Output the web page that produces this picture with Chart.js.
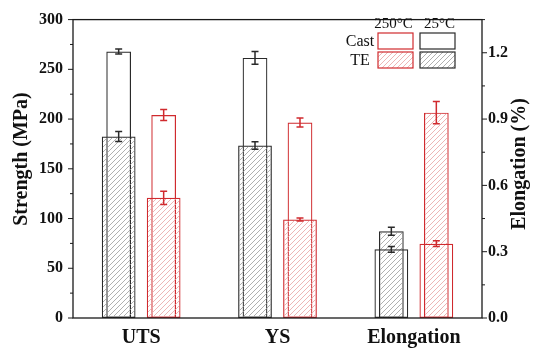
<!DOCTYPE html>
<html><head><meta charset="utf-8">
<script src="https://cdn.jsdelivr.net/npm/chart.js@4/dist/chart.umd.min.js"></script>
<style>html,body{margin:0;padding:0;background:#fff;}#wrap{width:533px;height:349px;}</style>
</head><body><div id="wrap"><canvas id="c" width="533" height="349"></canvas></div>
<script>
// ---- data ----
const categories = ['UTS', 'YS', 'Elongation'];
// UTS, YS in MPa ; Elongation in %
const cast25     = [268, 261.5, 0.311];
const cast25Err  = [2.5, 6.5, 0.013];
const te25       = [182.5, 173.5, 0.392];
const te25Err    = [5, 3.8, 0.018];
const cast250    = [204, 196.5, 0.336];
const cast250Err = [5.5, 4.6, 0.013];
const te250      = [120.8, 99, 0.929];
const te250Err   = [6.6, 1.5, 0.05];
const strengthTicks = [0, 50, 100, 150, 200, 250, 300];
const elongTicks    = [0, 0.3, 0.6, 0.9, 1.2];
const legendCols = ['250°C', '25°C'];
const legendRows = ['Cast', 'TE'];

// ---- helpers ----
const BLACK = '#2a2a2a', RED = '#d02a2e';
const strengthPart = a => a.map((v, i) => i < 2 ? v : null);
const elongPart = a => a.map((v, i) => i === 2 ? v : null);
const canvas = document.getElementById('c');
const mainCtx = canvas.getContext('2d');
function hatch(color) {
  const s = 5, c = document.createElement('canvas');
  c.width = s; c.height = s;
  const g = c.getContext('2d');
  g.strokeStyle = color; g.lineWidth = 0.8;
  g.beginPath();
  g.moveTo(0, s); g.lineTo(s, 0);
  g.moveTo(-1, 1); g.lineTo(1, -1);
  g.moveTo(s - 1, s + 1); g.lineTo(s + 1, s - 1);
  g.stroke();
  return mainCtx.createPattern(c, 'repeat');
}
const hatchK = hatch('#9c9c9c'), hatchR = hatch('#e9a3a3');
const NARROW = 0.55, WIDE = 0.75;
const serif = 'Liberation Serif';

function ds(label, data, err, axis, stack, color, fill, bp) {
  return {label, data, errors: err, yAxisID: axis, stack, borderColor: color,
    backgroundColor: fill, borderWidth: 1.2, borderSkipped: false,
    barPercentage: bp, categoryPercentage: 0.66, errColor: color};
}
const datasets = [
  ds('TE 25', strengthPart(te25), te25Err, 'y', 'k', BLACK, hatchK, WIDE),
  ds('Cast 25', strengthPart(cast25), cast25Err, 'y', 'k', BLACK, 'rgba(0,0,0,0)', NARROW),
  ds('Cast 25 el', elongPart(cast25), cast25Err, 'y1', 'k', BLACK, 'rgba(0,0,0,0)', WIDE),
  ds('TE 25 el', elongPart(te25), te25Err, 'y1', 'k', BLACK, hatchK, NARROW),
  ds('TE 250', strengthPart(te250), te250Err, 'y', 'r', RED, hatchR, WIDE),
  ds('Cast 250', strengthPart(cast250), cast250Err, 'y', 'r', RED, 'rgba(0,0,0,0)', NARROW),
  ds('Cast 250 el', elongPart(cast250), cast250Err, 'y1', 'r', RED, 'rgba(0,0,0,0)', WIDE),
  ds('TE 250 el', elongPart(te250), te250Err, 'y1', 'r', RED, hatchR, NARROW),
];

const errorBars = {
  id: 'errorBars',
  afterDatasetsDraw(chart) {
    const ctx = chart.ctx;
    chart.data.datasets.forEach((d, i) => {
      const meta = chart.getDatasetMeta(i);
      const sc = chart.scales[d.yAxisID];
      d.data.forEach((v, j) => {
        if (v === null || v === undefined) return;
        const el = meta.data[j];
        const e = d.errors[j];
        const x = el.x, y1 = sc.getPixelForValue(v + e), y2 = sc.getPixelForValue(v - e);
        ctx.save();
        ctx.strokeStyle = d.errColor; ctx.lineWidth = 1.5;
        ctx.beginPath();
        ctx.moveTo(x, y1); ctx.lineTo(x, y2);
        ctx.moveTo(x - 3.5, y1); ctx.lineTo(x + 3.5, y1);
        ctx.moveTo(x - 3.5, y2); ctx.lineTo(x + 3.5, y2);
        ctx.stroke();
        ctx.restore();
      });
    });
  }
};

const frame = {
  id: 'frame',
  afterDraw(chart) {
    const {ctx, chartArea: a} = chart;
    ctx.save();
    ctx.strokeStyle = '#1a1a1a'; ctx.lineWidth = 1.3;
    ctx.strokeRect(a.left, a.top, a.right - a.left, a.bottom - a.top);
    // tick marks (major + minor)
    const ys = chart.scales.y, yr = chart.scales.y1;
    ctx.lineWidth = 1;
    ctx.beginPath();
    for (let k = 0; k < strengthTicks.length; k++) {
      const p = ys.getPixelForValue(strengthTicks[k]);
      ctx.moveTo(a.left - 5, p); ctx.lineTo(a.left, p);
      if (k < strengthTicks.length - 1) {
        const m = ys.getPixelForValue((strengthTicks[k] + strengthTicks[k + 1]) / 2);
        ctx.moveTo(a.left - 3, m); ctx.lineTo(a.left, m);
      }
    }
    for (let k = 0; k < elongTicks.length; k++) {
      const p = yr.getPixelForValue(elongTicks[k]);
      ctx.moveTo(a.right, p); ctx.lineTo(a.right + 5, p);
      const m = yr.getPixelForValue(elongTicks[k] + (elongTicks[1] - elongTicks[0]) / 2);
      ctx.moveTo(a.right, m); ctx.lineTo(a.right + 3, m);
    }
    ctx.stroke();
    // axis titles
    ctx.fillStyle = '#111';
    ctx.font = 'bold 20px "' + serif + '"';
    ctx.textAlign = 'center'; ctx.textBaseline = 'middle';
    ctx.save(); ctx.translate(22, 159); ctx.rotate(-Math.PI / 2);
    ctx.fillText('Strength (MPa)', 0, 0); ctx.restore();
    ctx.save(); ctx.translate(520, 164); ctx.rotate(-Math.PI / 2);
    ctx.fillText('Elongation (%)', 0, 0); ctx.restore();
    // legend
    const boxX = [378, 420], boxY = [33, 52], bw = 35, bh = 16;
    const colColors = [RED, BLACK], hatches = [hatchR, hatchK];
    ctx.font = '15px "' + serif + '"';
    ctx.textBaseline = 'alphabetic';
    legendCols.forEach((t, c) => ctx.fillText(t, boxX[c] + bw / 2 - (c === 0 ? 2 : -2), 28));
    ctx.font = '16px "' + serif + '"';
    legendRows.forEach((t, r) => ctx.fillText(t, 360, boxY[r] + 13));
    for (let c = 0; c < 2; c++) for (let r = 0; r < 2; r++) {
      if (r === 1) { ctx.fillStyle = hatches[c]; ctx.fillRect(boxX[c], boxY[r], bw, bh); }
      ctx.strokeStyle = colColors[c]; ctx.lineWidth = 1.2;
      ctx.strokeRect(boxX[c], boxY[r], bw, bh);
    }
    ctx.restore();
  }
};

const tickFont = {family: serif, weight: 'bold', size: 16};
new Chart(canvas, {
  type: 'bar',
  data: {labels: categories, datasets},
  options: {
    responsive: false, animation: false,
    layout: {padding: {top: 14, left: 0, right: 0, bottom: 0}},
    plugins: {legend: {display: false}, tooltip: {enabled: false}},
    scales: {
      x: {
        grid: {display: false, drawTicks: false}, border: {display: false},
        ticks: {font: {family: serif, weight: 'bold', size: 20}, color: '#111', padding: 8},
        afterFit(s) { s.height = 31; }
      },
      y: {
        position: 'left', min: 0, max: 300, stacked: false,
        grid: {display: false, drawTicks: false}, border: {display: false},
        ticks: {font: tickFont, color: '#111', padding: 10},
        afterBuildTicks(s) { s.ticks = strengthTicks.map(v => ({value: v})); },
        afterFit(s) { s.width = 73; }
      },
      y1: {
        position: 'right', min: 0, max: 1.35, stacked: false,
        grid: {display: false, drawTicks: false}, border: {display: false},
        ticks: {font: tickFont, color: '#111', padding: 6, callback: v => Number(v).toFixed(1)},
        afterBuildTicks(s) { s.ticks = elongTicks.map(v => ({value: v})); },
        afterFit(s) { s.width = 51; }
      }
    }
  },
  plugins: [errorBars, frame]
});
</script></body></html>
